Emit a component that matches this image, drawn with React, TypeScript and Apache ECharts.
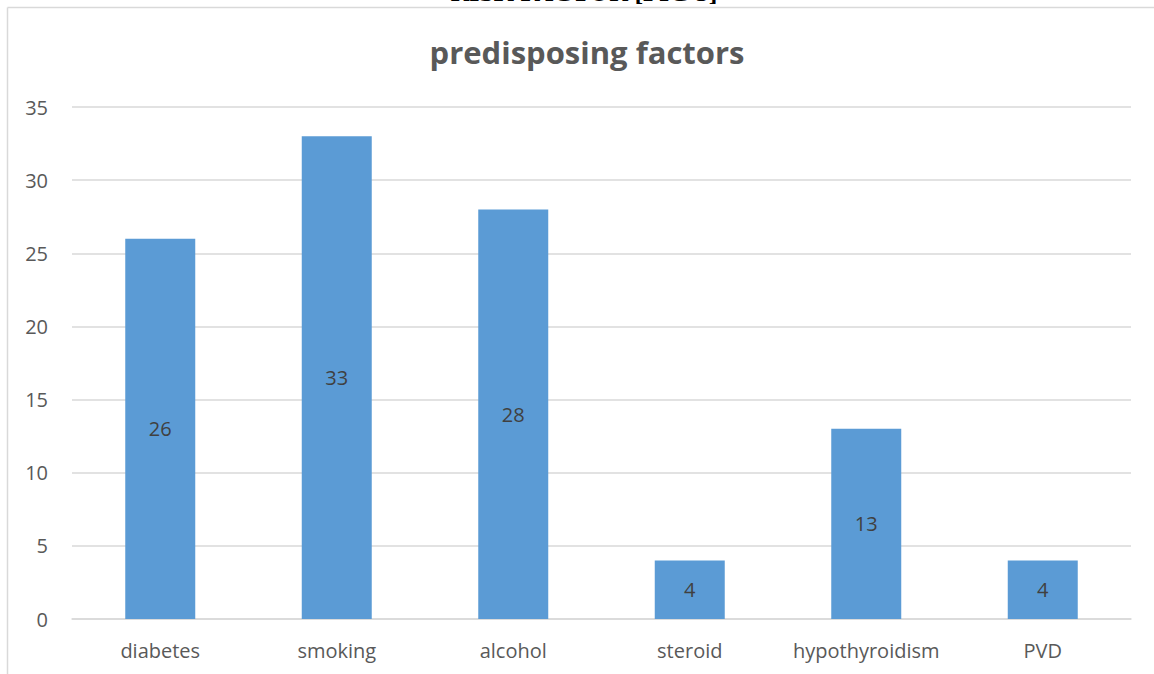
import React, { useEffect, useRef } from "react";
import * as echarts from "echarts";

const categories = ["diabetes", "smoking", "alcohol", "steroid", "hypothyroidism", "PVD"];
const values = [26, 33, 28, 4, 13, 4];
const yTicks = [0, 5, 10, 15, 20, 25, 30, 35];
const chartTitle = "predisposing factors";
const headerText = "RISK FACTOR [FIG 5]";

export default function App() {
  const ref = useRef<HTMLDivElement>(null);
  useEffect(() => {
    if (!ref.current) return;
    const chart = echarts.init(ref.current, null, { renderer: "svg" });
    const font = "'Open Sans', Lato, sans-serif";
    chart.setOption({
      animation: false,
      backgroundColor: "#ffffff",
      title: {
        text: chartTitle,
        left: 582,
        top: 31,
        textAlign: "center",
        textStyle: { fontFamily: font, fontSize: 31, fontWeight: "bold", color: "#595959" },
      },
      graphic: [
        { type: "line", shape: { x1: 7.5, y1: 7.5, x2: 1154, y2: 7.5 }, style: { stroke: "#d9d9d9", lineWidth: 1.5 } },
        { type: "line", shape: { x1: 7.5, y1: 7.5, x2: 7.5, y2: 674 }, style: { stroke: "#d9d9d9", lineWidth: 1.5 } },
        {
          type: "text",
          x: 584,
          y: -7.5,
          style: {
            text: headerText,
            fontFamily: "'Liberation Serif', 'DejaVu Serif', serif",
            fontSize: 26,
            fontWeight: "bold",
            fill: "#000000",
            textAlign: "center",
            textVerticalAlign: "middle",
          },
        },
      ],
      grid: { left: 72, right: 23, top: 107, bottom: 55, containLabel: false },
      xAxis: {
        type: "category",
        data: categories,
        axisLine: { show: true, lineStyle: { color: "#d9d9d9", width: 1.5 } },
        axisTick: { show: false },
        axisLabel: { fontFamily: font, fontSize: 20, color: "#595959", margin: 21, interval: 0 },
      },
      yAxis: {
        type: "value",
        min: yTicks[0],
        max: yTicks[yTicks.length - 1],
        interval: yTicks[1] - yTicks[0],
        axisLine: { show: false },
        axisTick: { show: false },
        splitLine: { lineStyle: { color: "#d9d9d9", width: 1.5 } },
        axisLabel: { fontFamily: font, fontSize: 20, color: "#595959", margin: 24 },
      },
      series: [
        {
          type: "bar",
          data: values,
          barWidth: 70,
          itemStyle: { color: "#5b9bd5" },
          label: {
            show: true,
            position: "inside",
            fontFamily: font,
            fontSize: 20,
            color: "#404040",
          },
        },
      ],
    });
    return () => chart.dispose();
  }, []);
  return <div ref={ref} style={{ position: "fixed", left: 0, top: 0, width: 1154, height: 674 }} />;
}
